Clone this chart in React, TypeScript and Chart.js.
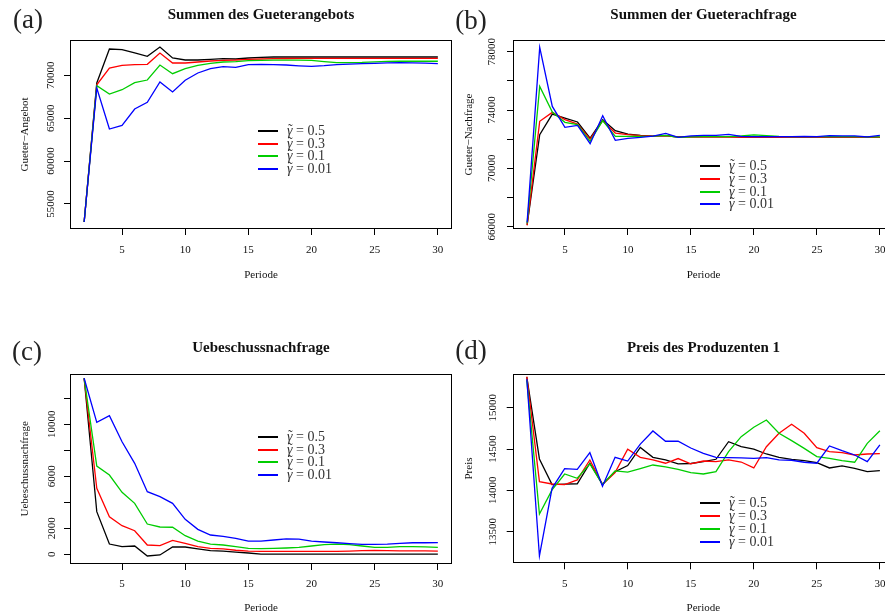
import React, { useEffect, useRef } from 'react';
import { Chart, registerables } from 'chart.js';
Chart.register(...registerables);

// ---------- data ----------
const periods = [2, 3, 4, 5, 6, 7, 8, 9, 10, 11, 12, 13, 14, 15, 16, 17, 18, 19, 20, 21, 22, 23, 24, 25, 26, 27, 28, 29, 30];
const xTicks = [5, 10, 15, 20, 25, 30];
const gammaValues = ['0.5', '0.3', '0.1', '0.01'];
const legendLabels = gammaValues.map((v) => 'γ\u0303 = ' + v);
const seriesColors = ['#000000', '#ff0000', '#00cd00', '#0000ff'];

// (a) Summen des Gueterangebots
const angebotG05 = [52900, 69100, 73065, 72985, 72600, 72215, 73300, 72015, 71785, 71785, 71865, 71940, 71900, 72015, 72100, 72130, 72130, 72130, 72130, 72130, 72130, 72130, 72130, 72130, 72130, 72130, 72130, 72130, 72130];
const angebotG03 = [52900, 68900, 70850, 71165, 71245, 71280, 72600, 71435, 71435, 71550, 71665, 71745, 71785, 71860, 71900, 71940, 71960, 71980, 71980, 71980, 71980, 71980, 71980, 71980, 71980, 71980, 71980, 71980, 71980];
const angebotG01 = [52900, 68790, 67820, 68320, 69140, 69450, 71200, 70185, 70770, 71165, 71400, 71550, 71590, 71705, 71740, 71760, 71760, 71760, 71740, 71600, 71480, 71480, 71500, 71560, 71620, 71640, 71640, 71640, 71640];
const angebotG001 = [52900, 68520, 63740, 64170, 66070, 66850, 69220, 68055, 69420, 70270, 70770, 71000, 70930, 71245, 71260, 71250, 71200, 71110, 71050, 71130, 71250, 71300, 71350, 71400, 71450, 71470, 71450, 71420, 71370];
const angebotYTicks = [55000, 60000, 65000, 70000];
const angebotYLabels = ['55000', '60000', '65000', '70000'];

// (b) Summen der Gueterachfrage
const nachfrageG05 = [66130, 72305, 73725, 73450, 73180, 72080, 73340, 72580, 72350, 72260, 72215, 72240, 72150, 72170, 72170, 72170, 72170, 72150, 72150, 72150, 72150, 72150, 72150, 72150, 72150, 72150, 72150, 72150, 72130];
const nachfrageG03 = [66090, 73225, 73840, 73340, 73040, 72010, 73270, 72420, 72310, 72240, 72215, 72240, 72140, 72150, 72150, 72150, 72150, 72150, 72150, 72150, 72150, 72150, 72150, 72150, 72150, 72150, 72150, 72150, 72130];
const nachfrageG01 = [66230, 75625, 73860, 73155, 73000, 71850, 73270, 72195, 72195, 72200, 72215, 72260, 72130, 72160, 72180, 72180, 72180, 72220, 72300, 72250, 72200, 72180, 72180, 72180, 72180, 72180, 72180, 72160, 72160];
const nachfrageG001 = [66295, 78300, 74250, 72810, 72950, 71690, 73610, 71920, 72055, 72120, 72215, 72400, 72130, 72230, 72260, 72260, 72330, 72190, 72180, 72170, 72170, 72180, 72200, 72180, 72240, 72230, 72230, 72160, 72260];
const nachfrageYTicks = [66000, 68000, 70000, 72000, 74000, 76000, 78000];
const nachfrageYLabels = ['66000', '', '70000', '', '74000', '', '78000'];

// (c) Uebeschussnachfrage
const ueberG05 = [13540, 3280, 790, 585, 640, -130, -50, 560, 560, 410, 280, 250, 175, 100, 20, 10, 10, 10, 10, 10, 10, 10, 10, 10, 10, 10, 10, 10, 10];
const ueberG03 = [13540, 5075, 2890, 2200, 1815, 715, 665, 1075, 845, 585, 460, 410, 310, 250, 230, 230, 230, 230, 230, 230, 230, 250, 280, 300, 280, 270, 270, 260, 250];
const ueberG01 = [13540, 6790, 6100, 4770, 3920, 2330, 2100, 2080, 1430, 1020, 790, 715, 585, 460, 430, 450, 485, 540, 640, 740, 790, 740, 640, 540, 540, 590, 590, 565, 540];
const ueberG001 = [13540, 10150, 10660, 8660, 7000, 4815, 4430, 3920, 2690, 1920, 1485, 1380, 1230, 1020, 1020, 1100, 1180, 1160, 1020, 945, 890, 815, 760, 760, 780, 840, 890, 890, 900];
const ueberYTicks = [0, 2000, 4000, 6000, 8000, 10000, 12000];
const ueberYLabels = ['0', '2000', '', '6000', '', '10000', ''];

// (d) Preis des Produzenten 1
const preisG05 = [15370, 14380, 14070, 14075, 14080, 14328, 14073, 14225, 14300, 14520, 14400, 14370, 14320, 14325, 14347, 14376, 14589, 14528, 14500, 14440, 14400, 14376, 14360, 14335, 14271, 14295, 14267, 14226, 14238];
const preisG03 = [15375, 14105, 14077, 14070, 14126, 14368, 14073, 14215, 14497, 14400, 14370, 14328, 14385, 14320, 14355, 14347, 14368, 14343, 14271, 14528, 14690, 14799, 14690, 14516, 14468, 14456, 14428, 14440, 14444];
const preisG01 = [15330, 13715, 14005, 14198, 14146, 14320, 14073, 14235, 14220, 14262, 14307, 14285, 14255, 14214, 14198, 14226, 14468, 14650, 14763, 14851, 14690, 14601, 14508, 14408, 14388, 14360, 14340, 14569, 14722];
const preisG001 = [15345, 13207, 14025, 14262, 14255, 14456, 14050, 14400, 14355, 14560, 14718, 14594, 14594, 14512, 14448, 14400, 14396, 14392, 14388, 14396, 14368, 14364, 14340, 14328, 14537, 14480, 14428, 14347, 14549];
const preisYTicks = [13500, 14000, 14500, 15000];
const preisYLabels = ['13500', '14000', '14500', '15000'];

// ---------- layout ----------
const SERIF = "'Liberation Serif', 'Times New Roman', serif";

type PanelCfg = {
  letter: string; title: string; yTitle: string;
  series: number[][]; yTicks: number[]; yLabels: string[]; yMin: number; yMax: number;
  left: number; top: number; w: number; h: number;
  yAxisW: number; xAxisH: number; padTop: number; padRight: number;
  yLabPad: number; yTitlePad: number; xLabPad: number; xTitlePad: number;
  letterX: number; letterY: number; titleX: number; titleY: number;
  legX: number; legY: number;
};

const panels: PanelCfg[] = [
  {
    letter: '(a)', title: 'Summen des Gueterangebots', yTitle: 'Gueter\u2212Angebot',
    series: [angebotG05, angebotG03, angebotG01, angebotG001], yTicks: angebotYTicks, yLabels: angebotYLabels,
    yMin: 52086, yMax: 74114,
    left: 0, top: 30, w: 460, h: 260, yAxisW: 70, xAxisH: 61, padTop: 10, padRight: 8,
    yLabPad: -1, yTitlePad: 19, xLabPad: 9, xTitlePad: 8,
    letterX: 28, letterY: 19, titleX: 261, titleY: 14, legX: 258, legY: 130.7,
  },
  {
    letter: '(b)', title: 'Summen der Gueterachfrage', yTitle: 'Gueter\u2212Nachfrage',
    series: [nachfrageG05, nachfrageG03, nachfrageG01, nachfrageG001], yTicks: nachfrageYTicks, yLabels: nachfrageYLabels,
    yMin: 65842, yMax: 78803,
    left: 455, top: 30, w: 450, h: 260, yAxisW: 58, xAxisH: 61, padTop: 10, padRight: 11,
    yLabPad: 1, yTitlePad: 8, xLabPad: 9, xTitlePad: 8,
    letterX: 471, letterY: 19.5, titleX: 703.5, titleY: 14, legX: 700, legY: 166,
  },
  {
    letter: '(c)', title: 'Uebeschussnachfrage', yTitle: 'Uebeschussnachfrage',
    series: [ueberG05, ueberG03, ueberG01, ueberG001], yTicks: ueberYTicks, yLabels: ueberYLabels,
    yMin: -746, yMax: 13892,
    left: 0, top: 363, w: 460, h: 260, yAxisW: 70, xAxisH: 59, padTop: 10.7, padRight: 8,
    yLabPad: -1.5, yTitlePad: 19, xLabPad: 8, xTitlePad: 8,
    letterX: 27, letterY: 351, titleX: 261, titleY: 347, legX: 258, legY: 436.7,
  },
  {
    letter: '(d)', title: 'Preis des Produzenten 1', yTitle: 'Preis',
    series: [preisG05, preisG03, preisG01, preisG001], yTicks: preisYTicks, yLabels: preisYLabels,
    yMin: 13118, yMax: 15411,
    left: 455, top: 363, w: 450, h: 260, yAxisW: 57.7, xAxisH: 59.7, padTop: 10.7, padRight: 11,
    yLabPad: 0, yTitlePad: 8, xLabPad: 8, xTitlePad: 8,
    letterX: 471, letterY: 349.5, titleX: 703.5, titleY: 347, legX: 700, legY: 503.3,
  },
];

const boxPlugin = {
  id: 'rbox',
  afterDraw(chart: any) {
    const { ctx, chartArea: a } = chart;
    ctx.save();
    ctx.strokeStyle = '#000';
    ctx.lineWidth = 1;
    const l = Math.round(a.left) + 0.5, t = Math.round(a.top) + 0.5;
    const r = Math.round(a.right) - 0.5, b = Math.round(a.bottom) - 0.5;
    ctx.strokeRect(l, t, r - l, b - t);
    ctx.restore();
  },
};

function Panel({ cfg }: { cfg: PanelCfg }) {
  const ref = useRef<HTMLCanvasElement | null>(null);
  useEffect(() => {
    if (!ref.current) return;
    const font = { family: SERIF, size: 11 };
    const order = [3, 2, 1, 0];
    const chart = new Chart(ref.current, {
      type: 'line',
      data: {
        datasets: order.map((i) => ({
          label: legendLabels[i],
          data: periods.map((p, j) => ({ x: p, y: cfg.series[i][j] })),
          borderColor: seriesColors[i],
          backgroundColor: seriesColors[i],
          borderWidth: 1.3,
          pointRadius: 0,
          tension: 0,
          fill: false,
        })),
      },
      options: {
        animation: false,
        responsive: false,
        maintainAspectRatio: false,
        events: [],
        layout: { padding: { left: 0, top: cfg.padTop, right: cfg.padRight, bottom: 0 } },
        plugins: { legend: { display: false }, tooltip: { enabled: false } },
        scales: {
          x: {
            type: 'linear', min: 0.88, max: 31.12, bounds: 'data',
            afterBuildTicks: (s: any) => { s.ticks = xTicks.map((v) => ({ value: v })); },
            afterFit: (s: any) => { s.height = cfg.xAxisH; },
            ticks: { autoSkip: false, maxRotation: 0, minRotation: 0, padding: cfg.xLabPad, font, color: '#111', callback: (v: any) => String(v) },
            grid: { display: true, drawOnChartArea: false, drawTicks: true, tickLength: 6, color: '#000', lineWidth: 1 },
            border: { display: false },
            title: { display: true, text: 'Periode', font, color: '#111', padding: { top: 0, bottom: cfg.xTitlePad } },
          },
          y: {
            type: 'linear', min: cfg.yMin, max: cfg.yMax, bounds: 'data',
            afterBuildTicks: (s: any) => { s.ticks = cfg.yTicks.map((v) => ({ value: v })); },
            afterFit: (s: any) => { s.width = cfg.yAxisW; },
            ticks: {
              autoSkip: false, minRotation: 90, maxRotation: 90, crossAlign: 'center', padding: cfg.yLabPad,
              font, color: '#111', callback: (_v: any, i: number) => cfg.yLabels[i],
            },
            grid: { display: true, drawOnChartArea: false, drawTicks: true, tickLength: 6, color: '#000', lineWidth: 1 },
            border: { display: false },
            title: { display: true, text: cfg.yTitle, font, color: '#111', padding: { top: cfg.yTitlePad, bottom: 0 } },
          },
        },
      } as any,
      plugins: [boxPlugin],
    });
    return () => chart.destroy();
  }, [cfg]);

  const abs = (x: number, y: number): React.CSSProperties => ({
    position: 'absolute', left: x, top: y, transform: 'translate(-50%, -50%)', whiteSpace: 'nowrap', lineHeight: 1,
  });

  return (
    <>
      <canvas ref={ref} width={cfg.w} height={cfg.h}
        style={{ position: 'absolute', left: cfg.left, top: cfg.top, width: cfg.w, height: cfg.h }} />
      <div style={{ ...abs(cfg.letterX, cfg.letterY), fontSize: 27, color: '#222' }}>{cfg.letter}</div>
      <div style={{ ...abs(cfg.titleX, cfg.titleY), fontSize: 15, fontWeight: 'bold', color: '#111' }}>{cfg.title}</div>
      {gammaValues.map((val, i) => {
        const rowY = Math.round(cfg.legY + i * 12.8);
        return (
          <div key={val} style={{ position: 'absolute', left: cfg.legX, top: rowY - 7, height: 14, whiteSpace: 'nowrap' }}>
            <div style={{ position: 'absolute', left: 0, top: 6, width: 20, height: 1.5, background: seriesColors[i] }} />
            <span style={{ position: 'absolute', left: 29, top: 0, fontSize: 14, lineHeight: '14px', color: '#333' }}>
              <span style={{ position: 'relative', display: 'inline-block', fontStyle: 'italic' }}>
                γ
                <span style={{ position: 'absolute', left: 1, right: 0, top: -1, textAlign: 'center', fontStyle: 'normal' }}>{'\u02DC'}</span>
              </span>
              {' = ' + val}
            </span>
          </div>
        );
      })}
    </>
  );
}

export default function App() {
  return (
    <div style={{ position: 'fixed', left: 0, top: 0, width: 885, height: 615, overflow: 'hidden', background: '#fff', fontFamily: SERIF }}>
      {panels.map((p) => <Panel key={p.letter} cfg={p} />)}
    </div>
  );
}
